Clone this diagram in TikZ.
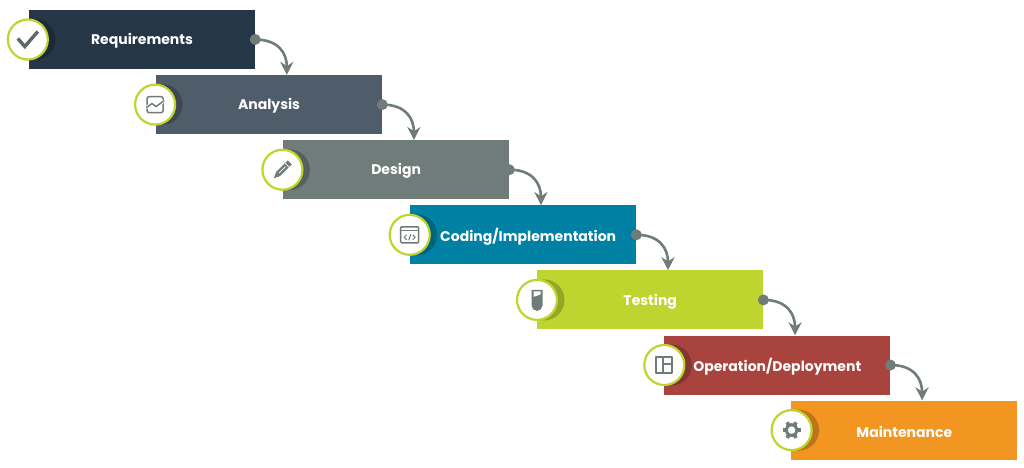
\documentclass[tikz,border=0pt]{standalone}
\usepackage{fontspec}
\setmainfont{Poppins}
\usepackage{xcolor}
\usetikzlibrary{arrows.meta}

\definecolor{reqblue}{HTML}{253746}
\definecolor{anaslate}{HTML}{4F5D6B}
\definecolor{desgrey}{HTML}{6F7C79}
\definecolor{codeteal}{HTML}{0081A4}
\definecolor{testlime}{HTML}{BED52F}
\definecolor{oprust}{HTML}{A8443D}
\definecolor{mainorange}{HTML}{F39621}

\tikzset{
    stepbox/.style={minimum width=226pt, minimum height=59pt, inner sep=0pt, draw=none},
    steptext/.style={text=white, font=\fontsize{14pt}{16pt}\selectfont\bfseries},
    badge/.style={circle, draw=testlime, line width=2.2pt, fill=white, minimum size=40pt, inner sep=0pt},
    badgeshade/.style={circle, fill=black, opacity=.22, minimum size=41pt, inner sep=0pt},
    flowdot/.style={circle, fill=desgrey, minimum size=11pt, inner sep=0pt},
    flow/.style={draw=desgrey, line width=2.6pt, -{Stealth[length=13pt,width=13pt]}},
    icon/.style={draw=desgrey, line width=1.5pt, line join=round}
}

\begin{document}
\begin{tikzpicture}[x=1pt, y=-1pt]
    \useasboundingbox (0,0) rectangle (1024,467);

    % steps
    \foreach \i/\lbl/\col/\dx in {0/Requirements/reqblue/0,
                                  1/Analysis/anaslate/0,
                                  2/Design/desgrey/0,
                                  3/Coding\slash Implementation/codeteal/5,
                                  4/Testing/testlime/0,
                                  5/Operation\slash Deployment/oprust/0,
                                  6/Maintenance/mainorange/0}
    {
        \node[stepbox, fill=\col] (box\i) at ({142+127.05*\i},{39.5+65.1*\i}) {};
        \node[steptext] (txt\i) at ([xshift=\dx pt, yshift=-1.5pt]box\i.center) {\lbl};
        \node[badgeshade] (shade\i) at ([xshift=\i*.25pt+6pt]box\i.west) {};
        \node[badge] (badge\i) at ([xshift=\i*.25pt-1pt]box\i.west) {};
    }

    % connectors
    \foreach \i/\j in {0/1, 1/2, 2/3, 3/4, 4/5, 5/6}
    {
        \node[flowdot] (dot\i) at (box\i.east) {};
        \coordinate (tip\j) at ([xshift=131pt]box\j.north west);
        \draw[flow] (dot\i.center) .. controls +(23,0) and +(0,-22) .. (tip\j);
    }

    % check
    \draw[desgrey!85!black, line width=3.4pt] ([shift={(-10,-1)}]badge0.center) -- ++(7,8) -- ++(13,-15);

    % chart
    \begin{scope}[shift={(badge1.center)}]
        \draw[icon, rounded corners=2pt] (-8,-8) rectangle (8,8);
        \draw[icon, draw=white, line width=3.2pt] (-9,3) -- (-3,-1) -- (1,2) -- (9,-4);
        \draw[icon] (-9,3) -- (-3,-1) -- (1,2) -- (9,-4);
    \end{scope}

    % pencil
    \begin{scope}[shift={(badge2.center)}]
        \fill[desgrey] (-8.5,8.5) -- (-6.4,2.4) -- (5.4,-9.4) -- (9.4,-5.4) -- (-2.4,6.4) -- cycle;
        \draw[white, line width=.8pt] (2.6,-6.6) -- (6.6,-2.6);
        \draw[white, line width=.7pt] (-3.5,3.5) -- (3,-3);
    \end{scope}

    % code window
    \begin{scope}[shift={(badge3.center)}]
        \draw[icon, rounded corners=1pt] (-9,-8) rectangle (9,8);
        \draw[icon, line width=1pt] (-9,-4) -- (9,-4);
        \draw[icon, line width=1pt] (-3,0) -- (-5.5,2.5) -- (-3,5);
        \draw[icon, line width=1pt] (3,0) -- (5.5,2.5) -- (3,5);
        \draw[icon, line width=1pt] (1,-.5) -- (-1,5.5);
    \end{scope}

    % test tube
    \begin{scope}[shift={(badge4.center)}]
        \fill[desgrey] (-5.5,-10) -- (5.5,-10) -- (5.5,5.5) arc[start angle=0, end angle=180, radius=5.5] -- cycle;
        \fill[white] (-3.5,-8.5) -- (3.5,-8.5) -- (3.5,-5.5) -- (-3.5,-3) -- cycle;
    \end{scope}

    % layout
    \begin{scope}[shift={(badge5.center)}]
        \draw[icon, line width=1.8pt] (-8,-8) rectangle (8,8);
        \draw[icon, line width=1.8pt] (-1,-8) -- (-1,8);
        \draw[icon, line width=1.8pt] (-1,-1) -- (8,-1);
    \end{scope}

    % gear
    \begin{scope}[shift={(badge6.center)}]
        \draw[icon, line width=3pt] (0,0) circle (5.5);
        \foreach \a in {0,60,...,300}
            \draw[icon, line width=3.6pt] (\a:6) -- (\a:9);
    \end{scope}
\end{tikzpicture}
\end{document}
